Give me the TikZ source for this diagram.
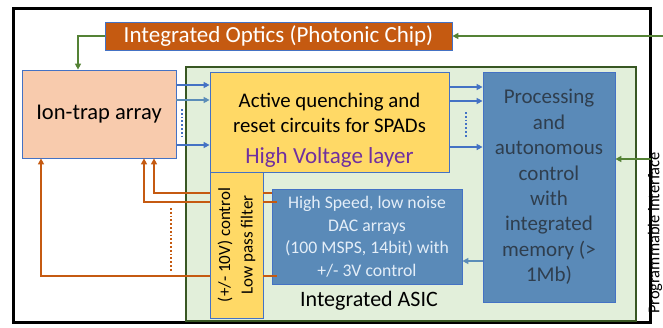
\documentclass[tikz,border=0pt]{standalone}
\usepackage{fontspec}
\setmainfont{Carlito}
\usetikzlibrary{arrows.meta}
\definecolor{optorange}{HTML}{C55A11}
\definecolor{ionpink}{HTML}{F8CBAD}
\definecolor{boxblue}{HTML}{4472C4}
\definecolor{lightblue}{HTML}{5B8DB8}
\definecolor{yel}{HTML}{FFD966}
\definecolor{asicgreen}{HTML}{E2EFDA}
\definecolor{darkgreen}{HTML}{385723}
\definecolor{arrgreen}{HTML}{548235}
\definecolor{dacblue}{HTML}{5A8AB8}
\definecolor{lighttext}{HTML}{E4EEF8}
\definecolor{darktext}{HTML}{2F3E4E}
\definecolor{hvpurple}{HTML}{7030A0}
\definecolor{orline}{HTML}{C55A11}
\begin{document}
\begin{tikzpicture}[x=1pt,y=-1pt,
  box/.style={draw=boxblue, line width=0.8pt, inner sep=0pt, align=center},
  barr/.style={draw=boxblue, line width=1.8pt, -{Triangle[length=6pt,width=6pt]}},
  garr/.style={draw=arrgreen, line width=1.8pt, -{Triangle[length=6pt,width=6pt]}},
  oarr/.style={draw=orline, line width=1.8pt, -{Triangle[length=6pt,width=6pt]}},
  oline/.style={draw=orline, line width=1.8pt},
  bdots/.style={draw=boxblue, line width=1.8pt, dotted},
  odots/.style={draw=orline, line width=1.8pt, dotted}]
\useasboundingbox (0,0) rectangle (663,327);
% outer frame
\node[draw=black, line width=3pt, minimum width=637pt, minimum height=314pt, inner sep=0pt] (frame) at (331.5,165) {};
% ASIC region
\node[draw=darkgreen, fill=asicgreen, line width=1.8pt, minimum width=450pt, minimum height=254pt, inner sep=0pt] (asic) at (411,194) {};
% boxes
\node[box, fill=optorange, text=white, minimum width=347pt, minimum height=28pt, font=\fontsize{23}{26}\selectfont] (opt) at (278.5,36) {Integrated Optics (Photonic Chip)};
\node[box, fill=ionpink, minimum width=154pt, minimum height=88pt, font=\fontsize{22.5}{26}\selectfont] (ion) at (99,114) {Ion-trap array};
\node[box, fill=yel, minimum width=239pt, minimum height=100pt] (spad) at (329.5,122) {};
\node[font=\fontsize{20.8}{25}\selectfont, align=center] (spadtxt) at (329.5,113) {Active quenching and\\reset circuits for SPADs};
\node[font=\fontsize{23}{26}\selectfont, text=hvpurple] (hv) at (329.5,157) {High Voltage layer};
\node[box, fill=yel, minimum width=53pt, minimum height=146pt] (lpf) at (236.5,245) {};
\node[rotate=90, font=\fontsize{17}{22.5}\selectfont, align=center] (lpftxt) at (236.5,245) {(+/- 10V) control\\Low pass filter};
\node[box, fill=dacblue, text=lighttext, minimum width=190pt, minimum height=95pt, font=\fontsize{17.7}{22.5}\selectfont] (dac) at (367,236.5) {High Speed, low noise\\DAC arrays\\(100 MSPS, 14bit) with\\+/- 3V control};
\node[box, fill=dacblue, text=darktext, minimum width=132pt, minimum height=230pt, font=\fontsize{21}{25.4}\selectfont] (proc) at (549,187) {Processing\\and\\autonomous\\control\\with\\integrated\\memory (>\\1Mb)};
\node[font=\fontsize{22}{25}\selectfont] (asiclbl) at (369,301) {Integrated ASIC};
\node[rotate=90, font=\fontsize{16.5}{19}\selectfont, inner sep=0pt] (prog) at (655,233) {Programmable interface};
% green connectors
\coordinate (inR) at (663,36);
\draw[garr] (inR) -- (opt.east |- inR);
\coordinate (bendA) at (78,36);
\draw[garr] (opt.west |- bendA) -- (bendA) -- (bendA |- ion.north);
\coordinate (progpt) at (651,159);
\draw[garr] (progpt) -- (proc.east |- progpt);
% blue arrows ion -> spad
\draw[barr] (ion.east |- 0,85) -- (spad.west |- 0,85);
\draw[barr, draw=lightblue] (ion.east |- 0,100) -- (spad.west |- 0,100);
\draw[barr] (ion.east |- 0,145) -- (spad.west |- 0,145);
\draw[bdots] (182,109) -- (182,137);
% blue arrows spad -> proc
\draw[barr] (spad.east |- 0,87) -- (proc.west |- 0,87);
\draw[barr] (spad.east |- 0,101) -- (proc.west |- 0,101);
\draw[barr] (spad.east |- 0,147) -- (proc.west |- 0,147);
\draw[bdots] (466,112) -- (466,138);
% proc -> dac
\draw[barr, draw=lightblue, line width=1.5pt] (proc.west |- 0,261) -- (dac.east |- 0,261);
% orange connectors
\coordinate (o1) at (154,193);
\coordinate (o2) at (144,202);
\coordinate (o3) at (41,276);
\draw[oarr] (lpf.west |- o1) -- (o1) -- (o1 |- ion.south);
\draw[oarr] (lpf.west |- o2) -- (o2) -- (o2 |- ion.south);
\draw[oarr] (lpf.west |- o3) -- (o3) -- (o3 |- ion.south);
\draw[odots] (171,208) -- (171,272);
\draw[oline] (lpf.east |- o1) -- (dac.west |- o1);
\draw[oline] (lpf.east |- o2) -- ([xshift=5pt]dac.west |- o2);
\draw[oline] (lpf.east |- o3) -- ([xshift=5pt]dac.west |- o3);
\end{tikzpicture}
\end{document}
